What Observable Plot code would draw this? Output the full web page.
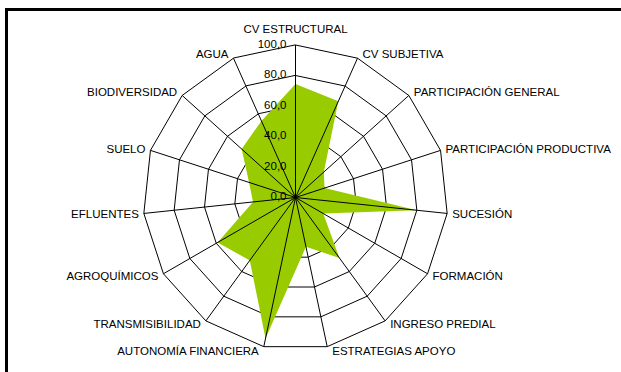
<!DOCTYPE html>
<html>
<head>
<meta charset="utf-8">
<script src="https://cdn.jsdelivr.net/npm/d3@7"></script>
<script src="https://cdn.jsdelivr.net/npm/@observablehq/plot@0.6"></script>
<style>
  html, body { margin: 0; padding: 0; background: #fff; }
  #wrap { position: relative; width: 621px; height: 372px; overflow: hidden; }
  #frame { position: absolute; left: 5px; top: 8px; width: 700px; height: 500px;
           border-left: 3px solid #000; border-top: 3px solid #000; box-sizing: border-box; }
  #chart { position: absolute; left: 0; top: 0; }
  svg { font-family: "Liberation Sans", Arial, sans-serif; }
</style>
</head>
<body>
<div id="wrap"><div id="chart"></div><div id="frame"></div></div>
<script>
// Data
const categories = [
  "CV ESTRUCTURAL", "CV SUBJETIVA", "PARTICIPACIÓN GENERAL", "PARTICIPACIÓN PRODUCTIVA",
  "SUCESIÓN", "FORMACIÓN", "INGRESO PREDIAL", "ESTRATEGIAS APOYO",
  "AUTONOMÍA FINANCIERA", "TRANSMISIBILIDAD", "AGROQUÍMICOS", "EFLUENTES",
  "SUELO", "BIODIVERSIDAD", "AGUA"
];
const values = [74.5, 69, 25, 20, 80, 21, 49, 33, 94.5, 51, 59, 28, 32, 47.5, 55];
const ringValues = [20, 40, 60, 80, 100];
const tickValues = [0, 20, 40, 60, 80, 100];
const tickLabels = ["0,0", "20,0", "40,0", "60,0", "80,0", "100,0"];

// Geometry helpers (polar -> cartesian in data units)
const n = categories.length;
const ang = (i) => (2 * Math.PI * i) / n;
const px = (r, i) => r * Math.sin(ang(i));
const py = (r, i) => r * Math.cos(ang(i));

const cx = 295, cy = 197, R = 152.5;
const k = 100 / R; // data units per pixel

const series = categories.map((c, i) => ({cat: c, i, v: values[i]}));
const rings = ringValues.flatMap((r) => categories.map((c, i) => ({r, i})));
const spokes = categories.map((c, i) => ({i}));
const labels = categories.map((c, i) => {
  const s = Math.sin(ang(i)), co = Math.cos(ang(i));
  const side = Math.abs(s) < 1e-6 ? "middle" : (s > 0 ? "start" : "end");
  const dxp = side === "middle" ? 0 : (s > 0 ? 5 : -5);
  const dyp = side === "middle" ? -15.5 : -4.7 * co;
  return {label: c, side, x: px(100, i) + dxp * k, y: py(100, i) - dyp * k};
});
const ticks = tickValues.map((t, j) => ({t, label: tickLabels[j]}));

const textStyle = {fontSize: 11.5, fill: "#000", lineAnchor: "middle"};

const chart = Plot.plot({
  width: 621,
  height: 372,
  margin: 0,
  x: {domain: [-100, 100], range: [cx - R, cx + R], axis: null},
  y: {domain: [-100, 100], range: [cy + R, cy - R], axis: null},
  marks: [
    Plot.line(rings, {
      x: (d) => px(d.r, d.i), y: (d) => py(d.r, d.i), z: "r",
      curve: "linear-closed", stroke: "#000", strokeWidth: 1
    }),
    Plot.line(series, {
      x: (d) => px(d.v, d.i), y: (d) => py(d.v, d.i),
      curve: "linear-closed", fill: "#99cc00", stroke: "none"
    }),
    Plot.link(spokes, {
      x1: 0, y1: 0, x2: (d) => px(100, d.i), y2: (d) => py(100, d.i),
      stroke: "#000", strokeWidth: 1
    }),
    Plot.text(ticks, {
      x: 0, y: "t", text: "label", textAnchor: "end", dx: -9, dy: -1, ...textStyle
    }),
    Plot.text(labels.filter((d) => d.side === "middle"), {
      x: "x", y: "y", text: "label", textAnchor: "middle", ...textStyle
    }),
    Plot.text(labels.filter((d) => d.side === "start"), {
      x: "x", y: "y", text: "label", textAnchor: "start", ...textStyle
    }),
    Plot.text(labels.filter((d) => d.side === "end"), {
      x: "x", y: "y", text: "label", textAnchor: "end", ...textStyle
    })
  ]
});
document.getElementById("chart").appendChild(chart);
</script>
</body>
</html>
